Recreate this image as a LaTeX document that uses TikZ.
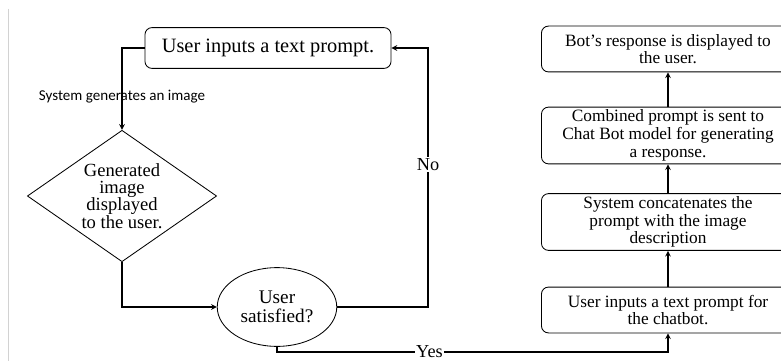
\documentclass[tikz,border=0pt]{standalone}
\usepackage{fontspec}
\setmainfont{Liberation Serif}
\newfontfamily\labelfont{Carlito}
\usetikzlibrary{shapes.geometric,calc}

\begin{document}
\begin{tikzpicture}[x=0.025cm, y=-0.025cm,
        stepbox/.style={draw, rounded corners=5pt, line width=0.6pt, align=center,
            inner sep=2pt, font=\fontsize{12.3}{12.6}\selectfont},
        chatbox/.style={stepbox, minimum width=180pt},
        decide/.style={draw, line width=0.6pt, align=center, inner sep=0pt,
            font=\fontsize{13.2}{12.2}\selectfont},
        flow/.style={line width=0.8pt, -stealth},
        edgetext/.style={font=\fontsize{13}{14}\selectfont, fill=white, inner sep=1pt}]
            \useasboundingbox (0,0) rectangle (781,361);
            \clip (0,0) rectangle (781,361);
            \draw[gray!35, line width=0.6pt] (8,9) -- (8,361);

            % image generation loop
            \node[stepbox, font=\fontsize{14.5}{16}\selectfont, minimum width=175pt, minimum height=29pt] (prompt) at (268,48) {User inputs a text prompt.};
            \node[decide, diamond, shape aspect=1.44, minimum width=134.6pt, minimum height=93.5pt] (shown) at (122,196)
                {Generated\\image\\displayed\\to the user.};
            \node[decide, ellipse, font=\fontsize{13.7}{13.5}\selectfont, minimum width=85pt, minimum height=56pt] (ok) at (277,307) {User\\satisfied?};
            \coordinate (nocorner) at (428,48);
            \coordinate (yesdrop) at (277,352);

            % chatbot part
            \node[chatbox, minimum height=32.6pt] (chatin) at (668,310) {User inputs a text prompt for\\the chatbot.};
            \node[chatbox, minimum height=38pt] (concat) at (668,222) {System concatenates the\\prompt with the image\\description};
            \node[chatbox, minimum height=39pt] (sent) at (668,135.5) {Combined prompt is sent to\\Chat Bot model for generating\\a response.};
            \node[chatbox, minimum height=32.6pt] (reply) at (668,49) {Bot's response is displayed to\\the user.};

            \draw[flow] (prompt.west) -| node[pos=0.8, font=\labelfont\fontsize{10.7}{12}\selectfont] {System generates an image} (shown.north);
            \draw[flow] (shown.south) |- (ok.west);
            \draw[flow] (ok.east) -| node[pos=0.775, edgetext] {No} (nocorner) -- (prompt.east);
            \draw[flow] (ok.south) -- (yesdrop) -| node[pos=0.195, edgetext] {Yes} (chatin.south);
            \draw[flow] (chatin.north) -- (concat.south);
            \draw[flow] (concat.north) -- (sent.south);
            \draw[flow] (sent.north) -- (reply.south);
        \end{tikzpicture}
\end{document}
